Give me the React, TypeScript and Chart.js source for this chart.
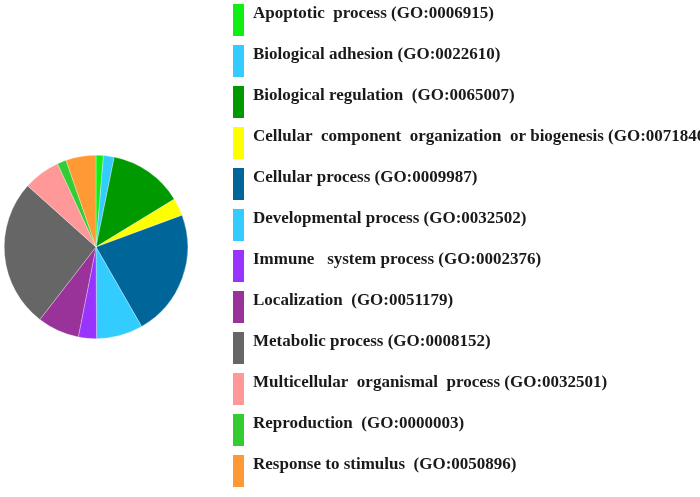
import React, { useEffect, useRef } from "react";
import { Chart, registerables } from "chart.js";

Chart.register(...registerables);

const categories = [
  "Apoptotic  process (GO:0006915)",
  "Biological adhesion (GO:0022610)",
  "Biological regulation  (GO:0065007)",
  "Cellular  component  organization  or biogenesis (GO:0071840)",
  "Cellular process (GO:0009987)",
  "Developmental process (GO:0032502)",
  "Immune   system process (GO:0002376)",
  "Localization  (GO:0051179)",
  "Metabolic process (GO:0008152)",
  "Multicellular  organismal  process (GO:0032501)",
  "Reproduction  (GO:0000003)",
  "Response to stimulus  (GO:0050896)",
];

const values = [1.3, 1.9, 13.1, 3.1, 22.4, 8.2, 3.2, 7.4, 26.2, 6.5, 1.6, 5.3];

const colors = [
  "#11EE11",
  "#33CCFF",
  "#009900",
  "#FFFF00",
  "#006699",
  "#33CCFF",
  "#9933FF",
  "#993399",
  "#666666",
  "#FF9999",
  "#33CC33",
  "#FF9933",
];

const sideLegend = {
  id: "sideLegend",
  afterDraw(chart: any) {
    const ctx = chart.ctx;
    const labels = chart.data.labels as string[];
    const bg = chart.data.datasets[0].backgroundColor as string[];
    ctx.save();
    ctx.font = "bold 17px 'Liberation Serif', 'Times New Roman', serif";
    ctx.textBaseline = "alphabetic";
    ctx.textAlign = "left";
    labels.forEach((label, i) => {
      const y = 4 + 41 * i;
      ctx.fillStyle = bg[i];
      ctx.fillRect(233, y, 11, 32);
      ctx.fillStyle = "#1a1a1a";
      ctx.fillText(label, 253, 17.5 + 41 * i);
    });
    ctx.restore();
  },
};

export default function App() {
  const ref = useRef<HTMLCanvasElement | null>(null);
  useEffect(() => {
    if (!ref.current) return;
    const chart = new Chart(ref.current, {
      type: "pie",
      data: {
        labels: categories,
        datasets: [
          {
            data: values,
            backgroundColor: colors,
            borderColor: "rgba(255,255,255,0.6)",
            borderWidth: 0.5,
          },
        ],
      },
      options: {
        animation: false,
        responsive: false,
        layout: { padding: { left: 4, top: 155, right: 512, bottom: 158 } },
        plugins: {
          legend: { display: false },
          tooltip: { enabled: false },
        },
      },
      plugins: [sideLegend],
    });
    return () => chart.destroy();
  }, []);
  return (
    <div style={{ position: "fixed", left: 0, top: 0, width: 700, height: 497, background: "#fff" }}>
      <canvas ref={ref} width={700} height={497} style={{ display: "block" }} />
    </div>
  );
}
